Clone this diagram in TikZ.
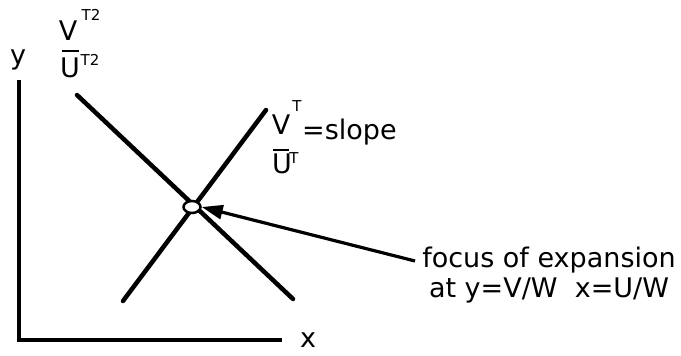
\documentclass[tikz,border=0pt]{standalone}
\usepackage{fontspec}
\setmainfont{DejaVu Sans}
\usetikzlibrary{arrows.meta,shapes.geometric}
\begin{document}
\begin{tikzpicture}[x=1pt,y=-1pt,
  thickline/.style={line width=4.5pt,line cap=round},
  lbl/.style={inner sep=0pt,font=\fontsize{27}{30}\selectfont},
  sup/.style={inner sep=0pt,font=\fontsize{15}{17}\selectfont},
  ptr/.style={line width=3.2pt,-{Triangle[length=21pt,width=14pt]}}]
\useasboundingbox (0,0) rectangle (681,356);
% axes
\coordinate (ytop) at (19,80);
\coordinate (orig) at (19,340);
\coordinate (xend) at (282,340);
\draw[line width=4.5pt] (ytop) -- (orig) -- (xend);
\node[lbl] (ylab) at (18,60) {y};
\node[lbl] (xlab) at (308,340) {x};
% lines
\coordinate (a1) at (77,95);
\coordinate (a2) at (293,299);
\coordinate (b1) at (123,301);
\coordinate (b2) at (266,110);
\draw[thickline] (a1) -- (a2);
\draw[thickline] (b1) -- (b2);
% focus circle
\node[ellipse,draw,line width=2.5pt,fill=white,minimum width=17pt,minimum height=12pt,inner sep=0pt] (foc) at (192,207) {};
% label V^T2 / U^T2
\node[lbl] (v2) at (68,31) {V};
\node[sup] (v2t) at (91,15) {T2};
\draw[line width=2.8pt] (62,51) -- (79,51);
\node[lbl] (u2) at (70,68) {U};
\node[sup] (u2t) at (90,60) {T2};
% label V^T / U^T = slope
\node[lbl] (v1) at (281,125) {V};
\node[sup] (v1t) at (297,106) {T};
\draw[line width=2.8pt] (273,150) -- (289,150);
\node[lbl] (u1) at (282,164) {U};
\node[sup] (u1t) at (294,158) {T};
\node[lbl,anchor=west] (slope) at (302,132) {=slope};
% focus text
\node[lbl,align=center] (ftxt) at (549,275) {focus of expansion\\at y=V/W\ \ x=U/W};
\coordinate (fstart) at (415,261);
\draw[ptr] (fstart) -- (foc.east);
\end{tikzpicture}
\end{document}
